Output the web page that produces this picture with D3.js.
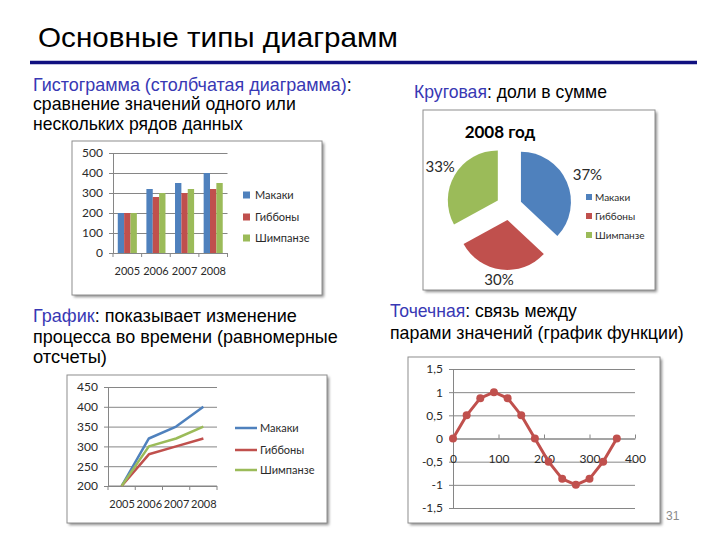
<!DOCTYPE html>
<html><head><meta charset="utf-8">
<script src="https://cdn.jsdelivr.net/npm/d3@7"></script>
<style>body{margin:0;background:#fff}svg{display:block}</style>
</head><body>
<svg id="c" width="720" height="540"></svg>
<script>
// ---------- DATA ----------
const years = ["2005", "2006", "2007", "2008"];
const seriesNames = ["Макаки", "Гиббоны", "Шимпанзе"];
const makaki = [200, 320, 350, 400];
const gibbony = [200, 280, 300, 320];
const shimpanze = [200, 300, 320, 350];
const barTicks = [0, 100, 200, 300, 400, 500];
const lineTicks = [200, 250, 300, 350, 400, 450];
const pieTitle = "2008 год";
const pieValues = [37, 30, 33];
const pieLabels = ["37%", "30%", "33%"];
const scatterX = [0, 30, 60, 90, 120, 150, 180, 210, 240, 270, 300, 330, 360];
const scatterY = [0, 0.5, 0.87, 1, 0.87, 0.5, 0, -0.5, -0.87, -1, -0.87, -0.5, 0];
const scatterYTicks = [-1.5, -1, -0.5, 0, 0.5, 1, 1.5];
const scatterXTicks = [0, 100, 200, 300, 400];
const colors = ["#4F81BD", "#C0504D", "#9BBB59"];

const svg = d3.select("#c");
const defs = svg.append("defs");
const f = defs.append("filter").attr("id", "sh").attr("x", "-10%").attr("y", "-10%").attr("width", "130%").attr("height", "130%");
f.append("feGaussianBlur").attr("stdDeviation", 1.5);

const BODY = "'Liberation Sans', Arial, sans-serif";
const CH = "Lato, 'Open Sans', sans-serif";
const BLUE = "#3838b4";
const TXT = "#2a2a2a";

// ---------- slide text ----------
function line(x, y, parts, width, size) {
  const t = svg.append("text").attr("font-family", BODY).attr("font-size", size || 18);
  parts.forEach(p => t.append("tspan").attr("fill", p[1] || "#000").text(p[0]));
  const w = t.node().getComputedTextLength();
  t.attr("transform", `translate(${x},${y}) scale(${width / w},1)`);
}
line(38, 47, [["Основные типы диаграмм"]], 360, 28);
svg.append("line").attr("x1", 30).attr("x2", 697).attr("y1", 62.5).attr("y2", 62.5)
  .attr("stroke", "#101080").attr("stroke-width", 3.5);

line(33, 91, [["Гистограмма (столбчатая диаграмма)", BLUE], [":"]], 319);
line(33, 110, [["сравнение значений одного или"]], 263);
line(33, 130, [["нескольких рядов данных"]], 210);
line(414, 98, [["Круговая", BLUE], [": доли в сумме"]], 193);
line(33, 322, [["График", BLUE], [": показывает изменение"]], 264);
line(33, 343, [["процесса во времени (равномерные"]], 305);
line(33, 363, [["отсчеты)"]], 74);
line(390, 317, [["Точечная", BLUE], [": связь между"]], 187);
line(390, 339, [["парами значений (график функции)"]], 294);

svg.append("text").attr("x", 666).attr("y", 520).attr("font-family", BODY)
  .attr("font-size", 12).attr("fill", "#8a8a8a").text("31");

function frame(x0, y0, x1, y1) {
  svg.append("rect").attr("x", x0 + 2).attr("y", y0 + 2).attr("width", x1 - x0).attr("height", y1 - y0)
    .attr("fill", "#8c8c8c").attr("filter", "url(#sh)");
  svg.append("rect").attr("x", x0).attr("y", y0).attr("width", x1 - x0).attr("height", y1 - y0)
    .attr("fill", "#fff").attr("stroke", "#8e8e8e").attr("stroke-width", 1);
}
const AX = "#868686";

function styleAxis(g, size) {
  g.selectAll("path,line").attr("stroke", AX).attr("stroke-width", 1);
  g.selectAll("text").attr("font-family", CH).attr("font-size", size || 12).attr("fill", TXT);
}

// ---------- Bar chart ----------
frame(72, 141, 322, 295);
{
  const x = d3.scaleBand().domain(years).range([113, 227.5]);
  const x1 = d3.scaleBand().domain(seriesNames).range([0, x.bandwidth()]).paddingOuter(0.75);
  const y = d3.scaleLinear().domain([0, 500]).range([253, 153]);
  const data = [makaki, gibbony, shimpanze];
  svg.append("g").attr("transform", "translate(113,0)")
    .call(d3.axisLeft(y).tickValues(barTicks).tickSize(-114.5).tickFormat(""))
    .call(g => { g.select(".domain").remove(); g.selectAll("line").attr("stroke", AX); });
  data.forEach((arr, si) => {
    svg.append("g").selectAll("rect").data(arr).join("rect")
      .attr("x", (d, i) => x(years[i]) + x1(seriesNames[si]))
      .attr("width", x1.bandwidth())
      .attr("y", d => y(d)).attr("height", d => y(0) - y(d))
      .attr("fill", colors[si]);
  });
  svg.append("g").attr("transform", "translate(113,0)")
    .call(d3.axisLeft(y).tickValues(barTicks).tickSize(4).tickPadding(6).tickSizeOuter(0))
    .call(g => styleAxis(g, 12));
  const gx = svg.append("g").attr("transform", "translate(0,253)")
    .call(d3.axisBottom(x).tickSize(0).tickPadding(14).tickSizeOuter(0)).call(g => styleAxis(g, 11));
  gx.selectAll(".tickmk").data(d3.range(5)).join("line")
    .attr("x1", i => 113 + i * x.step()).attr("x2", i => 113 + i * x.step())
    .attr("y1", 0).attr("y2", 4).attr("stroke", AX);
  const lg = svg.append("g");
  seriesNames.forEach((n, i) => {
    const yy = [195, 217, 238][i];
    lg.append("rect").attr("x", 243).attr("y", yy - 3.5).attr("width", 7).attr("height", 7).attr("fill", colors[i]);
    lg.append("text").attr("x", 255).attr("y", yy).attr("dy", "0.35em").attr("font-family", CH)
      .attr("font-size", 11).attr("fill", TXT).text(n);
  });
}

// ---------- Pie chart ----------
frame(423, 110, 655, 290);
{
  svg.append("text").attr("x", 500).attr("y", 138).attr("text-anchor", "middle")
    .attr("font-family", CH).attr("font-weight", "bold").attr("font-size", 17).attr("fill", "#000").text(pieTitle);
  const cx = 509, cy = 207, r = 50, ex = 13;
  const arcs = d3.pie().sort(null)(pieValues);
  const arc = d3.arc().innerRadius(0).outerRadius(r);
  const g = svg.append("g").attr("transform", `translate(${cx},${cy})`);
  arcs.forEach((a, i) => {
    const m = (a.startAngle + a.endAngle) / 2;
    g.append("path").attr("d", arc(a)).attr("fill", colors[i])
      .attr("transform", `translate(${ex * Math.sin(m)},${-ex * Math.cos(m)})`);
    const lab = d3.arc().innerRadius(80).outerRadius(80).centroid(a);
    g.append("text").attr("x", lab[0] + (i === 0 ? 5 : 0)).attr("y", Math.min(lab[1], 73)).attr("dy", "0.35em").attr("text-anchor", "middle")
      .attr("font-family", CH).attr("font-size", 15).attr("fill", TXT).text(pieLabels[i]);
  });
  seriesNames.forEach((n, i) => {
    const yy = [197, 216, 235][i];
    svg.append("rect").attr("x", 586).attr("y", yy - 3).attr("width", 6).attr("height", 6).attr("fill", colors[i]);
    svg.append("text").attr("x", 595).attr("y", yy).attr("dy", "0.35em").attr("font-family", CH)
      .attr("font-size", 10).attr("fill", TXT).text(n);
  });
}

// ---------- Line chart ----------
frame(67, 375, 327, 523);
{
  const x = d3.scalePoint().domain(years).range([108, 217]).padding(0.5);
  const y = d3.scaleLinear().domain([200, 450]).range([486, 387]);
  svg.append("g").attr("transform", "translate(108,0)")
    .call(d3.axisLeft(y).tickValues(lineTicks).tickSize(-109).tickFormat(""))
    .call(g => { g.select(".domain").remove(); g.selectAll("line").attr("stroke", AX); });
  svg.append("g").attr("transform", "translate(108,0)")
    .call(d3.axisLeft(y).tickValues(lineTicks).tickSize(4).tickPadding(6).tickSizeOuter(0)).call(g => styleAxis(g, 12));
  const gx = svg.append("g").attr("transform", "translate(0,486)")
    .call(d3.axisBottom(x).tickSize(0).tickPadding(14).tickSizeOuter(0)).call(g => styleAxis(g, 11));
  gx.select(".domain").attr("d", "M108,0H217");
  const step = x.step();
  gx.selectAll(".tickmk").data(d3.range(5)).join("line")
    .attr("x1", i => 108 + i * step).attr("x2", i => 108 + i * step)
    .attr("y1", 0).attr("y2", 4).attr("stroke", AX);
  const data = [makaki, gibbony, shimpanze];
  const ln = d3.line().x((d, i) => x(years[i])).y(d => y(d));
  data.forEach((arr, si) => {
    svg.append("path").attr("d", ln(arr)).attr("fill", "none").attr("stroke", colors[si])
      .attr("stroke-width", 2.5).attr("stroke-linejoin", "round");
  });
  seriesNames.forEach((n, i) => {
    const yy = [428, 450, 470][i];
    svg.append("line").attr("x1", 235).attr("x2", 257).attr("y1", yy).attr("y2", yy)
      .attr("stroke", colors[i]).attr("stroke-width", 2.5);
    svg.append("text").attr("x", 260).attr("y", yy).attr("dy", "0.35em").attr("font-family", CH)
      .attr("font-size", 11).attr("fill", TXT).text(n);
  });
}

// ---------- Scatter ----------
frame(408, 357, 660, 523);
{
  const x = d3.scaleLinear().domain([0, 400]).range([453, 635]);
  const y = d3.scaleLinear().domain([-1.5, 1.5]).range([508, 369]);
  const fmt = d => String(d).replace(".", ",");
  svg.append("g").attr("transform", "translate(453,0)")
    .call(d3.axisLeft(y).tickValues(scatterYTicks).tickSize(-182).tickFormat(""))
    .call(g => { g.select(".domain").remove(); g.selectAll("line").attr("stroke", AX); });
  svg.append("g").attr("transform", "translate(453,0)")
    .call(d3.axisLeft(y).tickValues(scatterYTicks).tickSize(4).tickPadding(6).tickSizeOuter(0).tickFormat(fmt))
    .call(g => styleAxis(g, 12));
  const gx = svg.append("g").attr("transform", `translate(0,${y(0)})`)
    .call(d3.axisBottom(x).tickValues(scatterXTicks).tickSize(0).tickPadding(16).tickSizeOuter(0)).call(g => styleAxis(g, 12));
  gx.selectAll(".tick").append("line").attr("y1", -4).attr("y2", 0).attr("stroke", AX);
  const ln = d3.line().x(d => x(d[0])).y(d => y(d[1]));
  const pts = scatterX.map((v, i) => [v, scatterY[i]]);
  svg.append("path").attr("d", ln(pts)).attr("fill", "none").attr("stroke", "#C0504D")
    .attr("stroke-width", 3).attr("stroke-linejoin", "round");
  svg.append("g").selectAll("circle").data(pts).join("circle")
    .attr("cx", d => x(d[0])).attr("cy", d => y(d[1])).attr("r", 4).attr("fill", "#C0504D");
}
</script>
</body></html>
